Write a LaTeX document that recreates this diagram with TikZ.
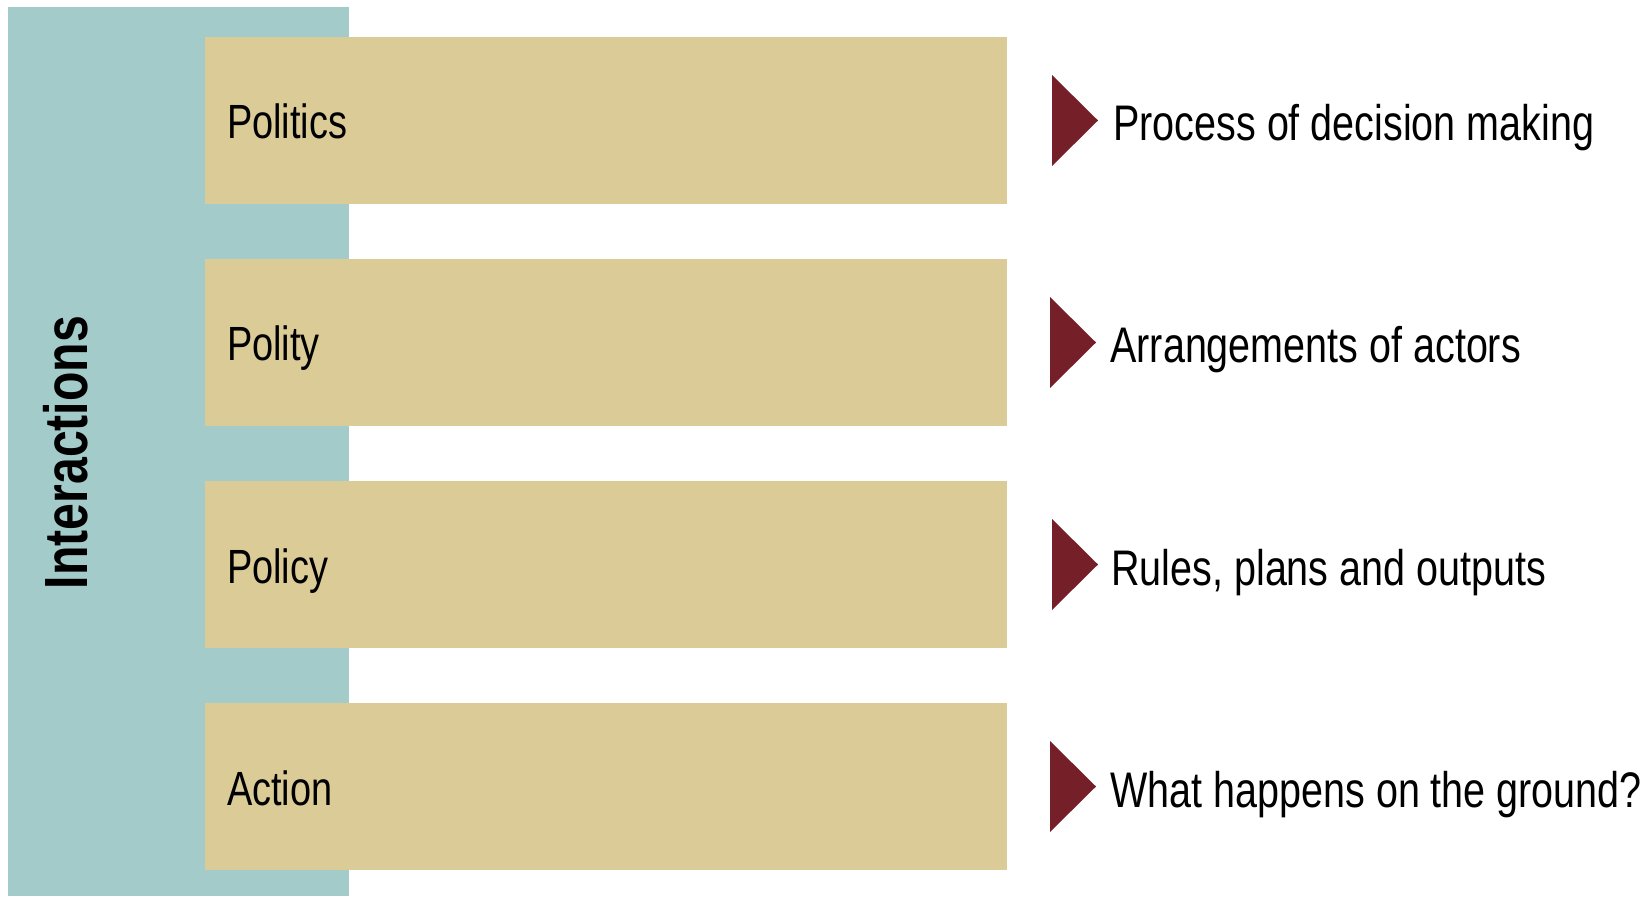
\documentclass[tikz,border=0pt]{standalone}
\usepackage{fontspec}
\setmainfont{Liberation Sans}[FakeStretch=0.79]
\usetikzlibrary{calc}
\definecolor{teal1}{RGB}{163,203,202}
\definecolor{tan1}{RGB}{219,203,150}
\definecolor{red1}{RGB}{117,32,40}
\begin{document}
\begin{tikzpicture}[x=0.5pt,y=0.5pt,
  tanbox/.style={fill=tan1, draw=none, minimum width=401pt, minimum height=83.5pt, inner sep=0pt},
  lbl/.style={font=\fontsize{24}{28}\selectfont, anchor=base west, inner sep=0pt},
  desc/.style={font=\fontsize{25}{29}\selectfont, anchor=base west, inner sep=0pt},
  tri/.style={fill=red1, draw=none}
]
\useasboundingbox (0,0) rectangle (1647,-897);
% teal band
\fill[teal1] (8,-7) rectangle (349,-896);
\node[rotate=90, anchor=base, inner sep=0pt, font=\bfseries\fontsize{30.5}{34}\selectfont] (inter) at (87,-452.5) {Interactions};
% boxes
\node[tanbox] (b1) at (606,-120.5) {};
\node[tanbox] (b2) at (606,-342.5) {};
\node[tanbox] (b3) at (606,-564.5) {};
\node[tanbox] (b4) at (606,-786.5) {};
\node[lbl] (l1) at ($(b1.west)+(22,-18.5)$) {Politics};
\node[lbl] (l2) at ($(b2.west)+(22,-18.5)$) {Polity};
\node[lbl] (l3) at ($(b3.west)+(22,-18.5)$) {Policy};
\node[lbl] (l4) at ($(b4.west)+(22,-18.5)$) {Action};
% triangles
\fill[tri] (1052,-75) -- (1098,-120.5) -- (1052,-166) -- cycle;
\fill[tri] (1050,-297) -- (1096,-342.5) -- (1050,-388) -- cycle;
\fill[tri] (1052,-519) -- (1098,-564.5) -- (1052,-610) -- cycle;
\fill[tri] (1050,-741) -- (1096,-786.5) -- (1050,-832) -- cycle;
% descriptions
\node[desc] (d1) at (1113,-141) {Process of decision making};
\node[desc] (d2) at (1110,-363) {Arrangements of actors};
\node[desc] (d3) at (1111,-585) {Rules, plans and outputs};
\node[desc] (d4) at (1110,-807) {What happens on the ground?};
\end{tikzpicture}
\end{document}
